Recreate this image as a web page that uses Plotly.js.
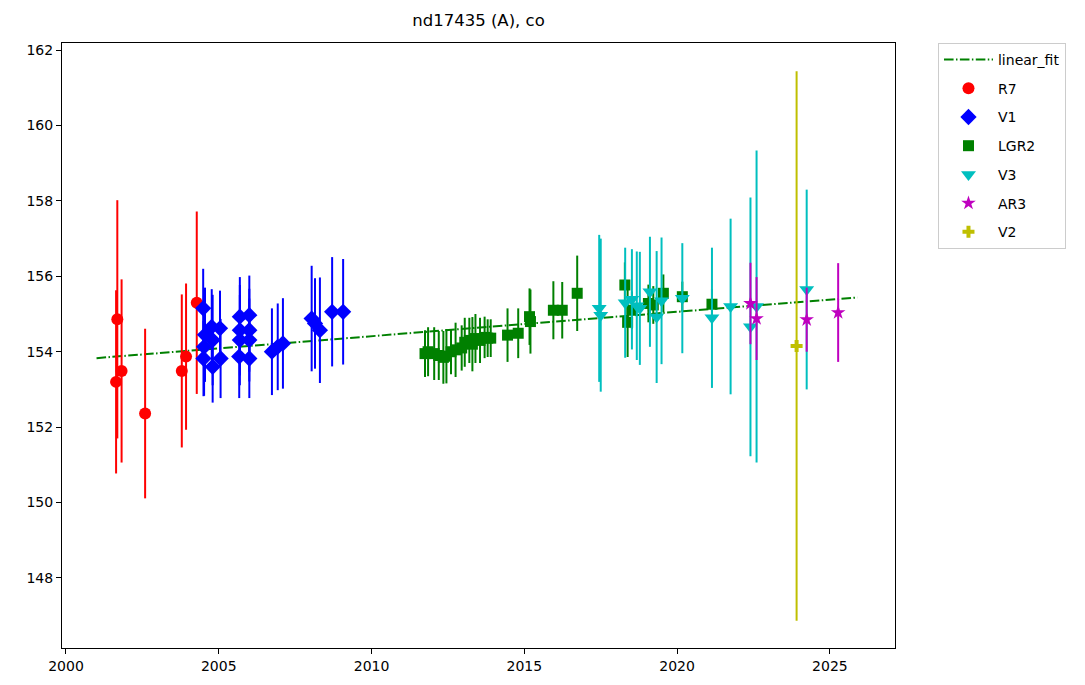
<!DOCTYPE html>
<html>
<head>
<meta charset="utf-8">
<script src="https://cdn.plot.ly/plotly-3.0.1.min.js"></script>
<style>html,body{margin:0;padding:0;background:#fff;}#chart{width:1085px;height:685px;}</style>
</head>
<body>
<div id="chart"></div>
<script>
// Linear fit
const fit_x = [2001.0, 2025.9];
const fit_y = [153.83, 155.44];

// R7
const r7_x = [2001.68, 2001.64, 2001.82, 2002.59, 2003.79, 2003.93, 2004.28];
const r7_y = [154.86, 153.20, 153.49, 152.36, 153.49, 153.87, 155.30];
const r7_err = [3.16, 2.43, 2.43, 2.25, 2.03, 1.94, 2.42];

// V1
const v1_x = [2004.49, 2004.55, 2004.52, 2004.50, 2004.77, 2004.80, 2004.80, 2005.04, 2005.06,
              2005.69, 2005.69, 2005.69, 2005.67, 2006.00, 2006.00, 2006.00, 2006.00,
              2006.74, 2006.93, 2007.10, 2008.04, 2008.15, 2008.31, 2008.71, 2009.07];
const v1_y = [155.15, 154.45, 154.13, 153.82, 154.66, 154.31, 153.60, 154.62, 153.82,
              154.93, 154.57, 154.31, 153.87, 154.97, 154.57, 154.31, 153.82,
              154.00, 154.13, 154.22, 154.88, 154.75, 154.57, 155.06, 155.06];
const v1_err = [1.05, 1.25, 1.3, 1.0, 1.0, 1.2, 0.95, 1.0, 1.05,
                1.05, 1.2, 1.2, 1.1, 1.05, 1.1, 1.1, 1.05,
                1.15, 1.15, 1.2, 1.4, 1.2, 1.4, 1.45, 1.4];

// LGR2
const lgr2_x = [2011.75, 2011.85, 2012.05, 2012.20, 2012.35, 2012.45, 2012.60, 2012.75, 2012.95,
                2013.05, 2013.20, 2013.30, 2013.40, 2013.55, 2013.70, 2013.80, 2013.90,
                2014.45, 2014.80, 2015.17, 2015.20, 2015.95, 2016.24, 2016.73,
                2018.29, 2018.38, 2018.52, 2019.06, 2019.22, 2019.55, 2020.17, 2021.14];
const lgr2_y = [153.95, 154.00, 153.95, 153.90, 153.85, 153.88, 154.00, 154.05, 154.10,
                154.25, 154.30, 154.20, 154.35, 154.30, 154.38, 154.36, 154.36,
                154.44, 154.49, 154.93, 154.80, 155.10, 155.10, 155.55,
                155.77, 154.78, 155.10, 155.28, 155.24, 155.55, 155.46, 155.26];
const lgr2_err = [0.62, 0.65, 0.7, 0.65, 0.7, 0.72, 0.6, 0.72, 0.6,
                  0.65, 0.6, 0.72, 0.65, 0.6, 0.55, 0.5, 0.5,
                  0.71, 0.66, 0.75, 0.85, 0.77, 0.75, 1.0,
                  0.6, 0.92, 0.5, 0.5, 0.5, 0.5, 0.4, 0.4];

// V3
const v3_x = [2017.45, 2017.50, 2018.30, 2018.52, 2018.68, 2018.78, 2019.11, 2019.33, 2019.49,
              2020.17, 2021.14, 2021.75, 2022.40, 2022.60, 2024.24];
const v3_y = [155.15, 154.97, 155.30, 155.39, 155.22, 155.15, 155.59, 154.92, 155.35,
              155.42, 154.90, 155.20, 154.66, 155.20, 155.65];
const v3_err = [1.95, 2.03, 1.46, 1.33, 1.44, 1.5, 1.46, 1.75, 1.68,
                1.46, 1.86, 2.33, 3.43, 4.14, 2.65];

// AR3
const ar3_x = [2022.40, 2022.60, 2024.24, 2025.27];
const ar3_y = [155.28, 154.88, 154.85, 155.04];
const ar3_err = [1.08, 1.1, 0.85, 1.31];

// V2
const v2_x = [2023.91];
const v2_y = [154.15];
const v2_err = [7.29];

function errTrace(name, xs, ys, es, color, symbol, size, rank) {
  return {
    type: 'scatter', mode: 'markers', name: name, x: xs, y: ys,
    marker: {color: color, symbol: symbol, size: size, line: {width: 0}},
    error_y: {type: 'data', array: es, visible: true, color: color, thickness: 2, width: 0},
    legendgroup: name, legendrank: rank
  };
}

const data = [
  {type: 'scatter', mode: 'lines', name: 'linear_fit', x: fit_x, y: fit_y,
   line: {color: '#008000', width: 2, dash: '9.6px,2.4px,1.5px,2.4px'}, legendgroup: 'fit', legendrank: 1},
  errTrace('R7', r7_x, r7_y, r7_err, '#ff0000', 'circle', 12, 2),
  errTrace('V1', v1_x, v1_y, v1_err, '#0000ff', 'diamond', 12.5, 3),
  errTrace('LGR2', lgr2_x, lgr2_y, lgr2_err, '#008000', 'square', 11, 4),
  errTrace('V3', v3_x, v3_y, v3_err, '#00bfbf', 'triangle-down', 13, 5),
  errTrace('AR3', ar3_x, ar3_y, ar3_err, '#bf00bf', 'star', 11, 6),
  errTrace('V2', v2_x, v2_y, v2_err, '#bfbf00', 'cross', 10, 7)
];

const axisFont = {family: 'DejaVu Sans', size: 14, color: '#000'};
const layout = {
  width: 1085, height: 685,
  margin: {l: 62, r: 190, t: 43, b: 37, pad: 0, autoexpand: false},
  paper_bgcolor: '#fff', plot_bgcolor: '#fff',
  font: {family: 'DejaVu Sans', size: 14, color: '#000'},
  title: {text: 'nd17435 (A), co', x: 0.5, xref: 'paper', y: 1 - 20/685, yref: 'container',
          yanchor: 'middle', font: {family: 'DejaVu Sans', size: 16.5, color: '#000'}},
  xaxis: {range: [1999.87, 2027.13], tickvals: [2000, 2005, 2010, 2015, 2020, 2025],
          showgrid: false, zeroline: false, showline: true, linecolor: '#000', linewidth: 1,
          mirror: true, ticks: 'outside', ticklen: 5, tickcolor: '#000', tickfont: axisFont},
  yaxis: {range: [146.14, 162.19], tickvals: [148, 150, 152, 154, 156, 158, 160, 162],
          showgrid: false, zeroline: false, showline: true, linecolor: '#000', linewidth: 1,
          mirror: true, ticks: 'outside', ticklen: 5, tickcolor: '#000', tickfont: axisFont},
  showlegend: true,
  legend: {x: 1.0516, xanchor: 'left', y: 1.0, yanchor: 'top', xref: 'paper', yref: 'paper',
           bgcolor: '#fff', bordercolor: '#cccccc', borderwidth: 1,
           font: {family: 'DejaVu Sans', size: 14, color: '#000'},
           traceorder: 'grouped', tracegroupgap: 7.5, itemwidth: 49}
};

Plotly.newPlot('chart', data, layout, {displayModeBar: false, staticPlot: true});
</script>
</body>
</html>
